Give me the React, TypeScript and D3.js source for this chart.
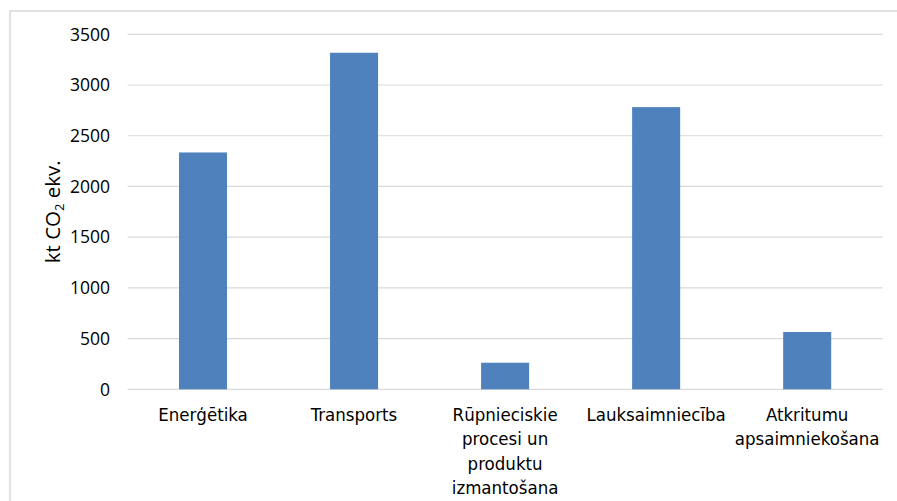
import React, { useEffect, useRef } from "react";
import * as d3 from "d3";

const categoryLines: string[][] = [
  ["Enerģētika"],
  ["Transports"],
  ["Rūpnieciskie", "procesi un", "produktu", "izmantošana"],
  ["Lauksaimniecība"],
  ["Atkritumu", "apsaimniekošana"],
];
const categories: string[] = ["Enerģētika", "Transports", "Rūpnieciskie procesi un produktu izmantošana", "Lauksaimniecība", "Atkritumu apsaimniekošana"];
const values: number[] = [2335, 3318, 262, 2782, 565];
const yTicks: number[] = [0, 500, 1000, 1500, 2000, 2500, 3000, 3500];

const W = 897;
const H = 501;
const BAR = "#4F81BD";
const GRID = "#D9D9D9";
const TICK_FONT = "'Open Sans', sans-serif";
const CAT_FONT = "'DejaVu Sans Condensed', 'DejaVu Sans', sans-serif";

export default function App() {
  const ref = useRef<SVGSVGElement | null>(null);

  useEffect(() => {
    const svg = d3.select(ref.current);
    svg.selectAll("*").remove();

    const x = d3
      .scaleBand<string>()
      .domain(categories)
      .range([127.5, 882.7])
      .paddingInner(0.682)
      .paddingOuter(0.341);
    const y = d3.scaleLinear().domain([0, 3500]).range([389.3, 34.3]);

    // chart border
    svg
      .append("rect")
      .attr("x", 10)
      .attr("y", 11)
      .attr("width", W + 20)
      .attr("height", H + 20)
      .attr("fill", "#fff")
      .attr("stroke", GRID)
      .attr("stroke-width", 1.5);

    // gridlines
    svg
      .append("g")
      .selectAll("line")
      .data(yTicks)
      .join("line")
      .attr("x1", 127.5)
      .attr("x2", 882.7)
      .attr("y1", (d) => y(d))
      .attr("y2", (d) => y(d))
      .attr("stroke", GRID)
      .attr("stroke-width", 1.2);

    // tick labels
    svg
      .append("g")
      .selectAll("text")
      .data(yTicks)
      .join("text")
      .attr("x", 110)
      .attr("y", (d) => y(d))
      .attr("dy", "0.36em")
      .attr("text-anchor", "end")
      .attr("font-family", TICK_FONT)
      .attr("font-size", 17.5)
      .attr("fill", "#000")
      .text((d) => String(d));

    // bars
    svg
      .append("g")
      .selectAll("rect")
      .data(values)
      .join("rect")
      .attr("x", (_d, i) => x(categories[i]) as number)
      .attr("y", (d) => y(d))
      .attr("width", x.bandwidth())
      .attr("height", (d) => y(0) - y(d))
      .attr("fill", BAR);

    // category labels
    const cat = svg.append("g");
    categories.forEach((c, i) => {
      const cx = (x(c) as number) + x.bandwidth() / 2;
      const t = cat
        .append("text")
        .attr("text-anchor", "middle")
        .attr("font-family", CAT_FONT)
        .attr("font-size", 18.5)
        .attr("fill", "#000");
      categoryLines[i].forEach((line, j) => {
        t.append("tspan")
          .attr("x", cx)
          .attr("y", 420.5 + j * 24.5)
          .text(line);
      });
    });

    // y axis title
    const title = svg
      .append("text")
      .attr("transform", `translate(60, ${(y(0) + y(3500)) / 2}) rotate(-90)`)
      .attr("text-anchor", "middle")
      .attr("font-family", TICK_FONT)
      .attr("font-size", 20.5)
      .attr("fill", "#000");
    title.append("tspan").text("kt CO");
    title.append("tspan").attr("font-size", 13).attr("dy", 4).text("2");
    title.append("tspan").attr("dy", -4).text(" ekv.");
  }, []);

  return (
    <svg
      ref={ref}
      width={W}
      height={H}
      style={{ position: "absolute", left: 0, top: 0, display: "block", background: "#fff" }}
    />
  );
}
